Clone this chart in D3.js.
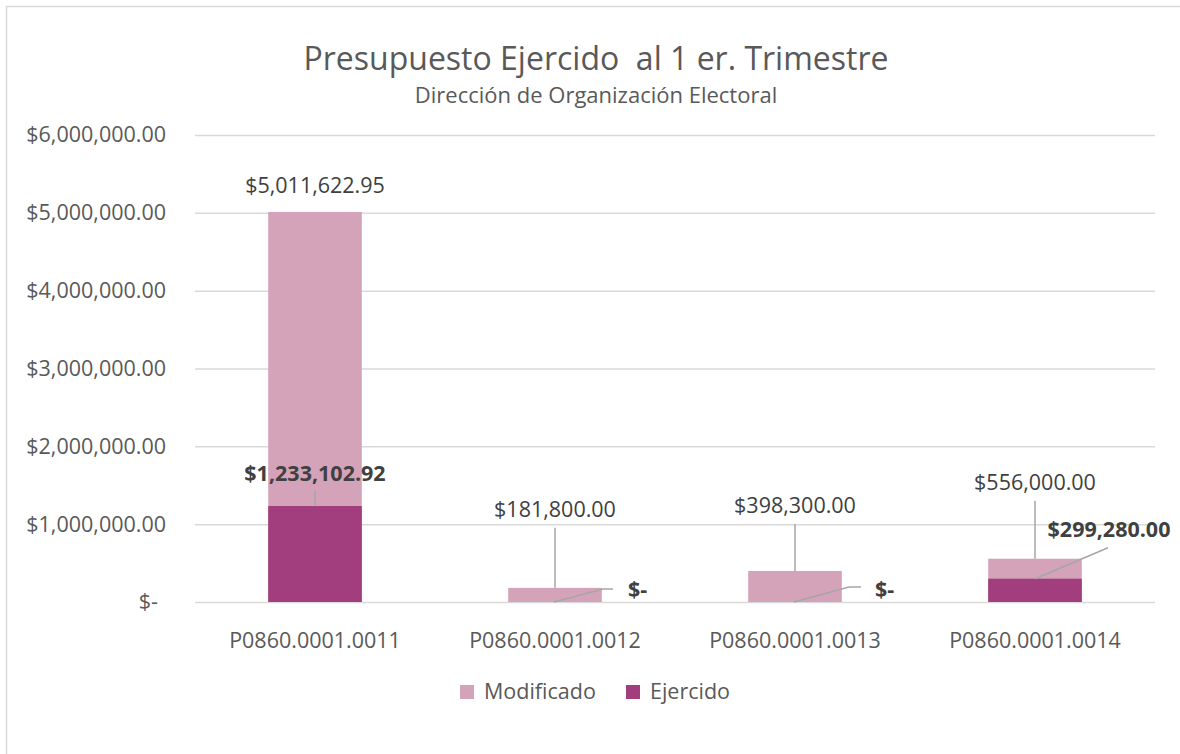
<!DOCTYPE html>
<html>
<head>
<meta charset="utf-8">
<script src="https://cdn.jsdelivr.net/npm/d3@7"></script>
<style>
    body { margin: 0; background: #fff; overflow: hidden; }
    svg { display: block; }
    svg text { font-family: "Open Sans", sans-serif; }
</style>
</head>
<body>
<div id="chart"></div>
<script>
// chart data
var categories = ["P0860.0001.0011", "P0860.0001.0012", "P0860.0001.0013", "P0860.0001.0014"];
var modificado = [5011622.95, 181800.00, 398300.00, 556000.00];
var ejercido = [1233102.92, 0, 0, 299280.00];
var seriesNames = ["Modificado", "Ejercido"];
var yTicks = [0, 1000000, 2000000, 3000000, 4000000, 5000000, 6000000];

var colors = {Modificado: "#d4a3b9", Ejercido: "#a23e7d"};

var width = 1180, height = 754;
var margin = {top: 135, right: 25, bottom: 152, left: 195};
var fontSize = "21.5px";

var svg = d3.select("#chart").append("svg")
    .attr("width", width)
    .attr("height", height);

// chart area border: only the top and left edges fall inside the picture
svg.append("path")
    .attr("d", d3.line()([[6.5, height], [6.5, 6.5], [width, 6.5]]))
    .attr("fill", "none")
    .attr("stroke", "#d9d9d9")
    .attr("stroke-width", 1.5);

var x = d3.scaleBand()
    .domain(categories)
    .range([margin.left, width - margin.right])
    .paddingInner(0.61)
    .paddingOuter(0.305);

var y = d3.scaleLinear()
    .domain([0, 6000000])
    .range([height - margin.bottom, margin.top]);

var money = d3.format("$,.2f");
function fmt(v) {
    if (v == 0) return "$-";
    return money(v);
}

// titles
svg.append("text")
    .attr("x", 596).attr("y", 70)
    .attr("text-anchor", "middle")
    .attr("fill", "#595959")
    .style("font-size", "32px")
    .style("white-space", "pre")
    .text("Presupuesto Ejercido  al 1 er. Trimestre");

svg.append("text")
    .attr("x", 596).attr("y", 103)
    .attr("text-anchor", "middle")
    .attr("fill", "#595959")
    .style("font-size", "22px")
    .text("Dirección de Organización Electoral");

// gridlines + y labels
var yAxis = d3.axisLeft(y)
    .tickValues(yTicks)
    .tickSize(-(width - margin.right - margin.left))
    .tickPadding(29)
    .tickFormat(fmt);

var gy = svg.append("g")
    .attr("transform", "translate(" + margin.left + ",0)")
    .call(yAxis);
gy.select(".domain").remove();
gy.selectAll(".tick line").attr("stroke", "#d9d9d9").attr("stroke-width", 1.5);
gy.selectAll(".tick text")
    .attr("fill", "#595959")
    .style("font-size", fontSize)
    .attr("dx", function(d){ return d == 0 ? -8 : 0; });

// x labels
var xAxis = d3.axisBottom(x).tickSize(0).tickPadding(31);
var gx = svg.append("g")
    .attr("transform", "translate(0," + y(0) + ")")
    .call(xAxis);
gx.select(".domain").remove();
gx.selectAll(".tick text")
    .attr("fill", "#595959")
    .style("font-size", fontSize);

// bars, modificado behind and ejercido in front (100% overlap)
svg.selectAll("rect.mod").data(modificado).enter().append("rect")
    .attr("class", "mod")
    .attr("x", function(d, i){ return x(categories[i]); })
    .attr("width", x.bandwidth())
    .attr("y", function(d){ return y(d); })
    .attr("height", function(d){ return y(0) - y(d); })
    .attr("fill", colors.Modificado);

svg.selectAll("rect.eje").data(ejercido).enter().append("rect")
    .attr("class", "eje")
    .attr("x", function(d, i){ return x(categories[i]); })
    .attr("width", x.bandwidth())
    .attr("y", function(d){ return y(d); })
    .attr("height", function(d){ return y(0) - y(d); })
    .attr("fill", colors.Ejercido);

// label placements (offsets from bar centre / bar top), leader lines where labels were moved
var modLabelDy = [-19, -71, -58, -69];
var ejeLabel = [
    {dx: 0, dy: -25, leader: [[0, -1], [0, -15]]},
    {dx: 73, dy: -5, leader: [[-1, 0], [48, -13], [58, -13]]},
    {dx: 80, dy: -5, leader: [[-1, 0], [54, -15], [66, -15]]},
    {dx: 74, dy: -42, leader: [[0, 0], [73, -31]]}
];

var lineGen = d3.line();

modificado.forEach(function(v, i){
    var cx = x(categories[i]) + x.bandwidth() / 2;
    var top = y(v);
    var ly = top + modLabelDy[i];
    svg.append("text")
        .attr("x", cx).attr("y", ly)
        .attr("text-anchor", "middle")
        .attr("fill", "#404040")
        .style("font-size", fontSize)
        .text(fmt(v));
    if (i > 0) {
        svg.append("path")
            .attr("d", lineGen([[cx, ly + 11], [cx, top]]))
            .attr("stroke", "#a6a6a6").attr("stroke-width", 1.5).attr("fill", "none");
    }
});

ejercido.forEach(function(v, i){
    var cx = x(categories[i]) + x.bandwidth() / 2;
    var top = y(v);
    var p = ejeLabel[i];
    var pts = p.leader.map(function(q){ return [cx + q[0], top + q[1]]; });
    svg.append("path")
        .attr("d", lineGen(pts))
        .attr("stroke", "#a6a6a6").attr("stroke-width", 1.5).attr("fill", "none");
    svg.append("text")
        .attr("x", cx + p.dx).attr("y", top + p.dy)
        .attr("text-anchor", v == 0 ? "start" : "middle")
        .attr("fill", "#404040")
        .style("font-size", fontSize)
        .style("font-weight", "bold")
        .text(fmt(v));
});

// legend
var legendX = [460, 626];
var lg = svg.selectAll("g.legend").data(seriesNames).enter().append("g")
    .attr("class", "legend")
    .attr("transform", function(d, i){ return "translate(" + legendX[i] + ",685)"; });
lg.append("rect")
    .attr("width", 14).attr("height", 14)
    .attr("fill", function(d){ return colors[d]; });
lg.append("text")
    .attr("x", 24).attr("y", 14)
    .attr("fill", "#595959")
    .style("font-size", fontSize)
    .text(function(d){ return d; });
</script>
</body>
</html>
